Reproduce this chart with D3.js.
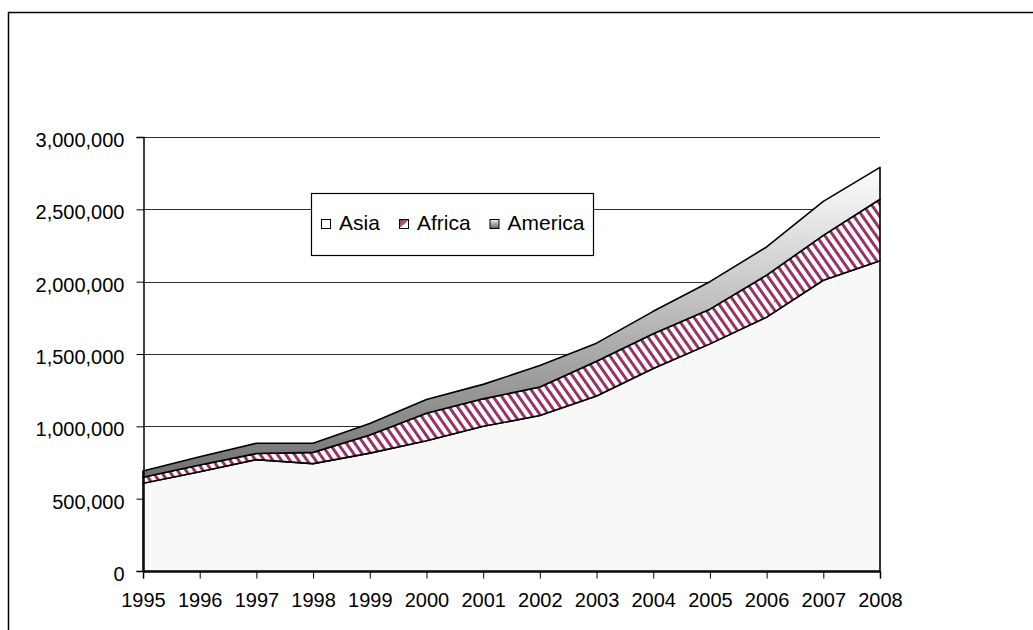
<!DOCTYPE html>
<html>
<head>
<meta charset="utf-8">
<script src="https://cdn.jsdelivr.net/npm/d3@7"></script>
<style>
  body { margin: 0; background: #fff; }
  text { font-family: "Liberation Sans", Arial, sans-serif; fill: #000; }
</style>
</head>
<body>
<script>
// years on the category axis
const years = ["1995","1996","1997","1998","1999","2000","2001","2002","2003","2004","2005","2006","2007","2008"];
// series values
const asia    = [606000, 686000, 770000, 742000, 815000, 900000, 1000000, 1075000, 1210000, 1400000, 1570000, 1755000, 2010000, 2145000];
const africa  = [42000, 47000, 42000, 78000, 125000, 190000, 190000, 197000, 240000, 240000, 240000, 290000, 310000, 425000];
const america = [43000, 57000, 71000, 63000, 80000, 95000, 100000, 148000, 125000, 155000, 190000, 195000, 235000, 220000];
const seriesNames = ["Asia", "Africa", "America"];
const yTicks = [0, 500000, 1000000, 1500000, 2000000, 2500000, 3000000];

const W = 1033, H = 630;
const plot = { left: 143, right: 880, top: 137, bottom: 571 };

const svg = d3.select("body").append("svg")
  .attr("width", W)
  .attr("height", H);

const defs = svg.append("defs");

// diagonal stripe pattern for Africa
const pat = defs.append("pattern")
  .attr("id", "stripes")
  .attr("patternUnits", "userSpaceOnUse")
  .attr("width", 7)
  .attr("height", 7)
  .attr("patternTransform", "rotate(-35)");
pat.append("rect").attr("width", 7).attr("height", 7).attr("fill", "#fff");
pat.append("rect").attr("width", 3).attr("height", 7).attr("fill", "#993366");

const y = d3.scaleLinear().domain([0, 3000000]).range([plot.bottom, plot.top]);
const x = d3.scalePoint().domain(years).range([plot.left, plot.right]);

// gradient for America, white at top going to gray further down
const grad = defs.append("linearGradient")
  .attr("id", "amGrad")
  .attr("gradientUnits", "userSpaceOnUse")
  .attr("x1", 0).attr("x2", 0)
  .attr("y1", y(2800000)).attr("y2", y(650000));
grad.append("stop").attr("offset", "0%").attr("stop-color", "#ffffff");
grad.append("stop").attr("offset", "100%").attr("stop-color", "#707070");

const legGrad = defs.append("linearGradient")
  .attr("id", "legAm")
  .attr("x1", 0).attr("x2", 0).attr("y1", 0).attr("y2", 1);
legGrad.append("stop").attr("offset", "0%").attr("stop-color", "#f0f0f0");
legGrad.append("stop").attr("offset", "100%").attr("stop-color", "#606060");

const legAf = defs.append("linearGradient")
  .attr("id", "legAf")
  .attr("x1", 0).attr("x2", 1).attr("y1", 0).attr("y2", 1);
legAf.append("stop").attr("offset", "0%").attr("stop-color", "#993366");
legAf.append("stop").attr("offset", "50%").attr("stop-color", "#b06080");
legAf.append("stop").attr("offset", "50%").attr("stop-color", "#ffffff");
legAf.append("stop").attr("offset", "100%").attr("stop-color", "#ffffff");

const fills = ["#f8f8f8", "url(#stripes)", "url(#amGrad)"];
const legFills = ["#ffffff", "url(#legAf)", "url(#legAm)"];

// outer chart frame (only top and left fall inside the window)
svg.append("rect")
  .attr("x", 8.5).attr("y", 12.5)
  .attr("width", 1200).attr("height", 800)
  .attr("fill", "none")
  .attr("stroke", "#000")
  .attr("stroke-width", 1.5);

// gridlines
svg.append("g")
  .selectAll("line")
  .data(yTicks.slice(1))
  .enter().append("line")
  .attr("x1", plot.left).attr("x2", plot.right)
  .attr("y1", d => Math.round(y(d)) + 0.5)
  .attr("y2", d => Math.round(y(d)) + 0.5)
  .attr("stroke", "#303030")
  .attr("stroke-width", 1);

// stacked areas
const table = years.map((yr, i) => ({ year: yr, Asia: asia[i], Africa: africa[i], America: america[i] }));
const stacked = d3.stack().keys(seriesNames)(table);

const area = d3.area()
  .x(d => x(d.data.year))
  .y0(d => y(d[0]))
  .y1(d => y(d[1]));

svg.append("g")
  .selectAll("path")
  .data(stacked)
  .enter().append("path")
  .attr("d", area)
  .attr("fill", (d, i) => fills[i])
  .attr("stroke", "#000")
  .attr("stroke-width", 1.6)
  .attr("stroke-linejoin", "round");

// y axis
const yAxis = d3.axisLeft(y)
  .tickValues(yTicks)
  .tickFormat(d3.format(","))
  .tickSize(7)
  .tickPadding(12);
const gy = svg.append("g")
  .attr("transform", `translate(${plot.left + 0.5},0)`)
  .call(yAxis);
gy.select(".domain").attr("stroke", "#000").attr("stroke-width", 1.5);
gy.selectAll(".tick line").attr("stroke", "#000");
gy.selectAll(".tick text")
  .attr("font-size", "20px")
  .attr("font-family", "Liberation Sans, Arial, sans-serif")
  .attr("dy", "0.48em");

// x axis
const xAxis = d3.axisBottom(x)
  .tickSize(7)
  .tickPadding(14);
const gx = svg.append("g")
  .attr("transform", `translate(0,${plot.bottom + 0.5})`)
  .call(xAxis);
gx.select(".domain").attr("stroke", "#000").attr("stroke-width", 1.5);
gx.selectAll(".tick line").attr("stroke", "#000");
gx.selectAll(".tick text")
  .attr("font-size", "20px")
  .attr("font-family", "Liberation Sans, Arial, sans-serif");

// legend
const leg = svg.append("g");
leg.append("rect")
  .attr("x", 311.5).attr("y", 193.5)
  .attr("width", 282).attr("height", 62)
  .attr("fill", "#fff")
  .attr("stroke", "#000")
  .attr("stroke-width", 1.2);

const legX = [321, 399, 489.5];
const item = leg.selectAll(".item")
  .data(seriesNames)
  .enter().append("g")
  .attr("class", "item")
  .attr("transform", (d, i) => `translate(${legX[i]},0)`);
item.append("rect")
  .attr("x", 0.5).attr("y", 219.5)
  .attr("width", 9).attr("height", 9)
  .attr("fill", (d, i) => legFills[i])
  .attr("stroke", "#000")
  .attr("stroke-width", 1);
item.append("text")
  .attr("x", 18)
  .attr("y", 230)
  .attr("font-size", "21px")
  .text(d => d);
</script>
</body>
</html>
